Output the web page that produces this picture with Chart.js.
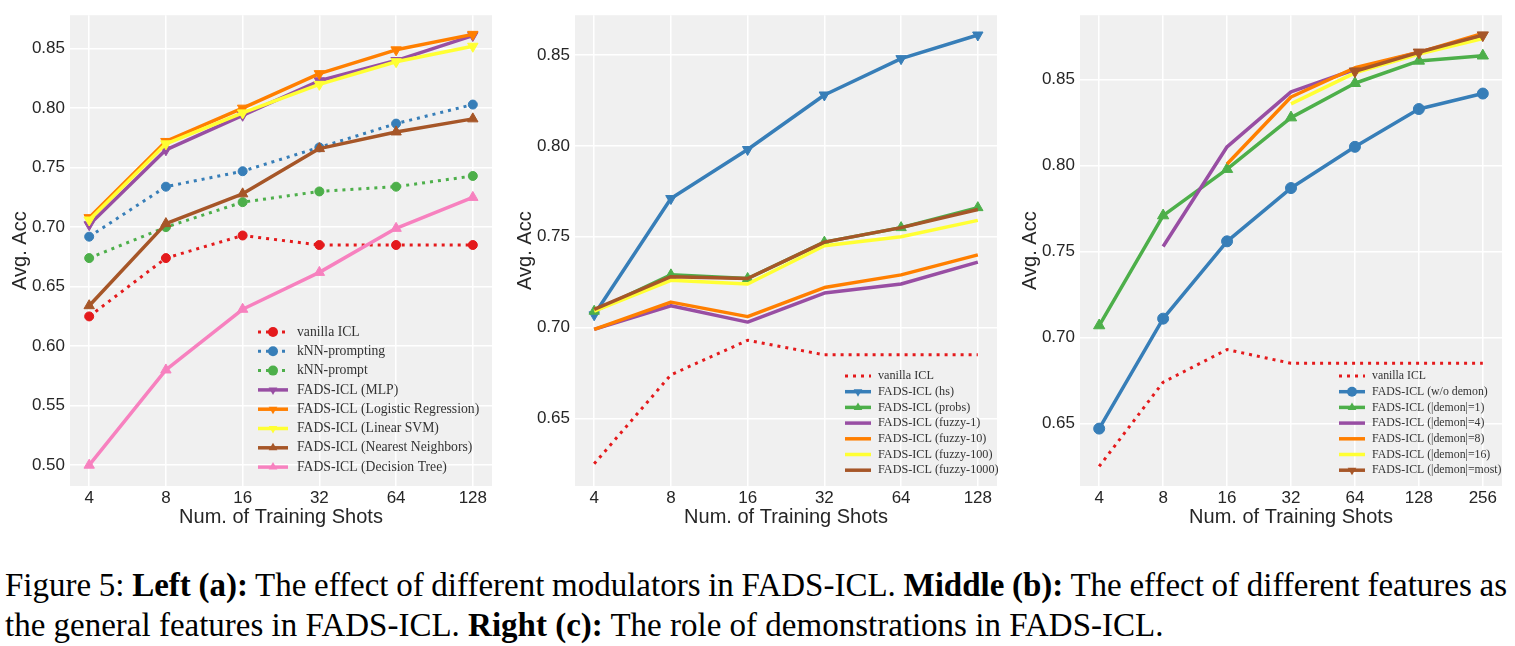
<!DOCTYPE html>
<html>
<head>
<meta charset="utf-8">
<script src="https://cdn.jsdelivr.net/npm/chart.js@4.4.1/dist/chart.umd.min.js"></script>
<style>
body { margin: 0; background: #fff; width: 1515px; height: 646px; position: relative; overflow: hidden; }
.panel { position: absolute; top: 0; width: 500px; height: 535px; }
#caption { position: absolute; left: 5px; top: 565px; width: 1510px; font-family: "Liberation Serif", serif; font-size: 33px; line-height: 40px; color: #000; }
#caption div { white-space: nowrap; }
#caption span { display: inline-block; white-space: nowrap; }
</style>
</head>
<body>
<canvas id="chartA" class="panel" width="500" height="535" style="left:0px"></canvas>
<canvas id="chartB" class="panel" width="500" height="535" style="left:505px"></canvas>
<canvas id="chartC" class="panel" width="500" height="535" style="left:1010px"></canvas>
<div id="caption">
  <div><span id="cap1">Figure 5: <b>Left (a):</b> The effect of different modulators in FADS-ICL. <b>Middle (b):</b> The effect of different features as</span></div>
  <div><span id="cap2">the general features in FADS-ICL. <b>Right (c):</b> The role of demonstrations in FADS-ICL.</span></div>
</div>
<script>
var shots = [4, 8, 16, 32, 64, 128];
var shotsC = [4, 8, 16, 32, 64, 128, 256];
var ticksAB = [0.50, 0.55, 0.60, 0.65, 0.70, 0.75, 0.80, 0.85];
var ticksBC = [0.65, 0.70, 0.75, 0.80, 0.85];

// (a) modulators
var vanillaA     = [0.625, 0.674, 0.693, 0.685, 0.685, 0.685];
var knnPrompting = [0.692, 0.734, 0.747, 0.767, 0.787, 0.803];
var knnPrompt    = [0.674, 0.700, 0.721, 0.730, 0.734, 0.743];
var mlp          = [0.702, 0.765, 0.794, 0.823, 0.840, 0.861];
var logReg       = [0.708, 0.772, 0.800, 0.829, 0.849, 0.862];
var linSvm       = [0.706, 0.770, 0.796, 0.820, 0.839, 0.852];
var nearest      = [0.634, 0.703, 0.728, 0.766, 0.780, 0.791];
var tree         = [0.500, 0.580, 0.631, 0.662, 0.699, 0.725];

// (b) features
var vanillaB  = [0.625, 0.674, 0.693, 0.685, 0.685, 0.685];
var hs        = [0.707, 0.771, 0.798, 0.828, 0.848, 0.861];
var probs     = [0.709, 0.729, 0.727, 0.747, 0.755, 0.766];
var fuzzy1    = [0.699, 0.712, 0.703, 0.719, 0.724, 0.736];
var fuzzy10   = [0.699, 0.714, 0.706, 0.722, 0.729, 0.740];
var fuzzy100  = [0.709, 0.726, 0.724, 0.745, 0.750, 0.759];
var fuzzy1000 = [0.710, 0.728, 0.727, 0.747, 0.755, 0.765];

// (c) demonstrations
var vanillaC  = [0.625, 0.674, 0.693, 0.685, 0.685, 0.685, 0.685];
var noDemon   = [0.647, 0.711, 0.756, 0.787, 0.811, 0.833, 0.842];
var demon1    = [0.707, 0.771, 0.798, 0.828, 0.848, 0.861, 0.864];
var demon4    = [null, 0.753, 0.811, 0.843, 0.856, 0.866, 0.875];
var demon8    = [null, null, 0.801, 0.840, 0.857, 0.866, 0.877];
var demon16   = [null, null, null, 0.836, 0.854, 0.865, 0.874];
var demonMost = [null, null, null, null, 0.855, 0.866, 0.876];

var RED = '#e41a1c', BLUE = '#377eb8', GREEN = '#4daf4a', PURPLE = '#984ea3',
    ORANGE = '#ff7f00', YELLOW = '#ffff33', BROWN = '#a65628', PINK = '#f781bf';

// caption: squeeze the first line to the full width like the justified original
(function () {
  var c1 = document.getElementById('cap1');
  var spaces = (c1.textContent.match(/ /g) || []).length;
  var w = c1.getBoundingClientRect().width;
  c1.style.wordSpacing = ((1502 - w) / spaces) + 'px';
})();

function pts(xs, ys) {
  return xs.map(function (x, i) { return { x: x, y: ys[i] }; })
           .filter(function (p) { return p.y !== null; });
}

// marker: null | 'circle' | 'up' | 'down'
function line(label, xs, ys, color, dotted, marker, r) {
  return {
    label: label,
    data: pts(xs, ys),
    borderColor: color,
    backgroundColor: color,
    borderWidth: dotted ? 3 : 3.5,
    borderDash: dotted ? [3, 5] : [],
    borderCapStyle: 'butt',
    borderJoinStyle: 'round',
    pointStyle: marker === 'circle' ? 'circle' : 'triangle',
    pointRotation: marker === 'down' ? 180 : 0,
    pointRadius: marker ? r : 0,
    pointBorderWidth: 1,
    pointBorderColor: color,
    pointBackgroundColor: color,
    marker: marker,
    tension: 0
  };
}

function drawMarker(ctx, marker, x, y, r, color) {
  ctx.fillStyle = color;
  ctx.beginPath();
  if (marker === 'circle') {
    ctx.arc(x, y, r, 0, Math.PI * 2);
  } else {
    var s = marker === 'down' ? -1 : 1;
    var a = 0;
    for (var k = 0; k < 3; k++) {
      var px = x + Math.sin(a) * r * s, py = y - Math.cos(a) * r * s;
      if (k === 0) ctx.moveTo(px, py); else ctx.lineTo(px, py);
      a += Math.PI * 2 / 3;
    }
    ctx.closePath();
  }
  ctx.fill();
}

var plotBg = {
  id: 'plotBg',
  beforeDraw: function (chart) {
    var a = chart.chartArea, ctx = chart.ctx;
    ctx.save();
    ctx.fillStyle = '#f0f0f0';
    ctx.fillRect(a.left, a.top, a.right - a.left, a.bottom - a.top);
    ctx.restore();
  }
};

var insideLegend = {
  id: 'insideLegend',
  afterDraw: function (chart, args, opts) {
    var ctx = chart.ctx;
    ctx.save();
    chart.data.datasets.forEach(function (ds, i) {
      var y = opts.y + i * opts.rowH;
      ctx.strokeStyle = ds.borderColor;
      ctx.lineWidth = ds.borderWidth;
      ctx.lineCap = 'butt';
      ctx.setLineDash(ds.borderDash);
      ctx.beginPath();
      ctx.moveTo(opts.x, y);
      ctx.lineTo(opts.x + opts.len, y);
      ctx.stroke();
      ctx.setLineDash([]);
      if (ds.marker) drawMarker(ctx, ds.marker, opts.x + opts.len / 2, y, opts.markR, ds.borderColor);
      ctx.fillStyle = '#333';
      ctx.font = opts.size + 'px "Liberation Serif"';
      ctx.textBaseline = 'middle';
      ctx.textAlign = 'left';
      ctx.fillText(ds.label, opts.textX, y);
    });
    ctx.restore();
  }
};

function makeChart(id, datasets, xTicks, xMargin, yMin, yMax, yTicks, legend) {
  datasets.forEach(function (d, i) { d.order = -i; });
  var lo = xTicks[0], hi = xTicks[xTicks.length - 1];
  var span = Math.log2(hi / lo) * xMargin;
  return new Chart(document.getElementById(id), {
    type: 'line',
    data: { datasets: datasets },
    options: {
      responsive: false,
      animation: false,
      layout: { padding: { top: 12, right: 8, left: 0, bottom: 0 } },
      plugins: { legend: { display: false }, tooltip: { enabled: false }, insideLegend: legend },
      scales: {
        x: {
          type: 'logarithmic',
          min: lo / Math.pow(2, span),
          max: hi * Math.pow(2, span),
          afterBuildTicks: function (s) { s.ticks = xTicks.map(function (v) { return { value: v }; }); },
          afterFit: function (s) { s.height = 49; },
          grid: { color: '#ffffff', lineWidth: 1.5, drawTicks: false },
          border: { display: false },
          ticks: {
            padding: 2, color: '#262626', autoSkip: false, maxRotation: 0,
            font: { family: 'Liberation Sans', size: 17 },
            callback: function (v) { return String(v); }
          },
          title: {
            display: true, text: 'Num. of Training Shots', color: '#262626',
            font: { family: 'Liberation Sans', size: 20 }, padding: { top: 0, bottom: 6 }
          }
        },
        y: {
          min: yMin,
          max: yMax,
          afterBuildTicks: function (s) { s.ticks = yTicks.map(function (v) { return { value: v }; }); },
          afterFit: function (s) { s.width = 70; },
          grid: { color: '#ffffff', lineWidth: 1.5, drawTicks: false },
          border: { display: false },
          ticks: {
            padding: 5, color: '#262626',
            font: { family: 'Liberation Sans', size: 17 },
            callback: function (v) { return v.toFixed(2); }
          },
          title: {
            display: true, text: 'Avg. Acc', color: '#262626',
            font: { family: 'Liberation Sans', size: 20 }, padding: { top: 8, bottom: 0 }
          }
        }
      }
    },
    plugins: [plotBg, insideLegend]
  });
}

makeChart('chartA', [
  line('vanilla ICL', shots, vanillaA, RED, true, 'circle', 4.5),
  line('kNN-prompting', shots, knnPrompting, BLUE, true, 'circle', 4.5),
  line('kNN-prompt', shots, knnPrompt, GREEN, true, 'circle', 4.5),
  line('FADS-ICL (MLP)', shots, mlp, PURPLE, false, 'down', 6),
  line('FADS-ICL (Logistic Regression)', shots, logReg, ORANGE, false, 'down', 6),
  line('FADS-ICL (Linear SVM)', shots, linSvm, YELLOW, false, 'down', 6),
  line('FADS-ICL (Nearest Neighbors)', shots, nearest, BROWN, false, 'up', 6),
  line('FADS-ICL (Decision Tree)', shots, tree, PINK, false, 'up', 6)
], shots, 0.05, 0.4825, 0.8781, ticksAB,
  { x: 258, len: 30, textX: 297, y: 332, rowH: 19.3, size: 13.7, markR: 5 });

makeChart('chartB', [
  line('vanilla ICL', shots, vanillaB, RED, true, null, 0),
  line('FADS-ICL (hs)', shots, hs, BLUE, false, 'down', 6),
  line('FADS-ICL (probs)', shots, probs, GREEN, false, 'up', 6),
  line('FADS-ICL (fuzzy-1)', shots, fuzzy1, PURPLE, false, null, 0),
  line('FADS-ICL (fuzzy-10)', shots, fuzzy10, ORANGE, false, null, 0),
  line('FADS-ICL (fuzzy-100)', shots, fuzzy100, YELLOW, false, null, 0),
  line('FADS-ICL (fuzzy-1000)', shots, fuzzy1000, BROWN, false, null, 0)
], shots, 0.05, 0.6128, 0.8719, ticksBC,
  { x: 340, len: 26, textX: 373, y: 376, rowH: 15.7, size: 12.2, markR: 5 });

makeChart('chartC', [
  line('vanilla ICL', shotsC, vanillaC, RED, true, null, 0),
  line('FADS-ICL (w/o demon)', shotsC, noDemon, BLUE, false, 'circle', 5.5),
  line('FADS-ICL (|demon|=1)', shotsC, demon1, GREEN, false, 'up', 6.5),
  line('FADS-ICL (|demon|=4)', shotsC, demon4, PURPLE, false, null, 0),
  line('FADS-ICL (|demon|=8)', shotsC, demon8, ORANGE, false, null, 0),
  line('FADS-ICL (|demon|=16)', shotsC, demon16, YELLOW, false, null, 0),
  line('FADS-ICL (|demon|=most)', shotsC, demonMost, BROWN, false, 'down', 6.5)
], shotsC, 0.05, 0.6136, 0.8876, ticksBC,
  { x: 329, len: 26, textX: 362, y: 376, rowH: 15.7, size: 11.8, markR: 5 });
</script>
</body>
</html>
